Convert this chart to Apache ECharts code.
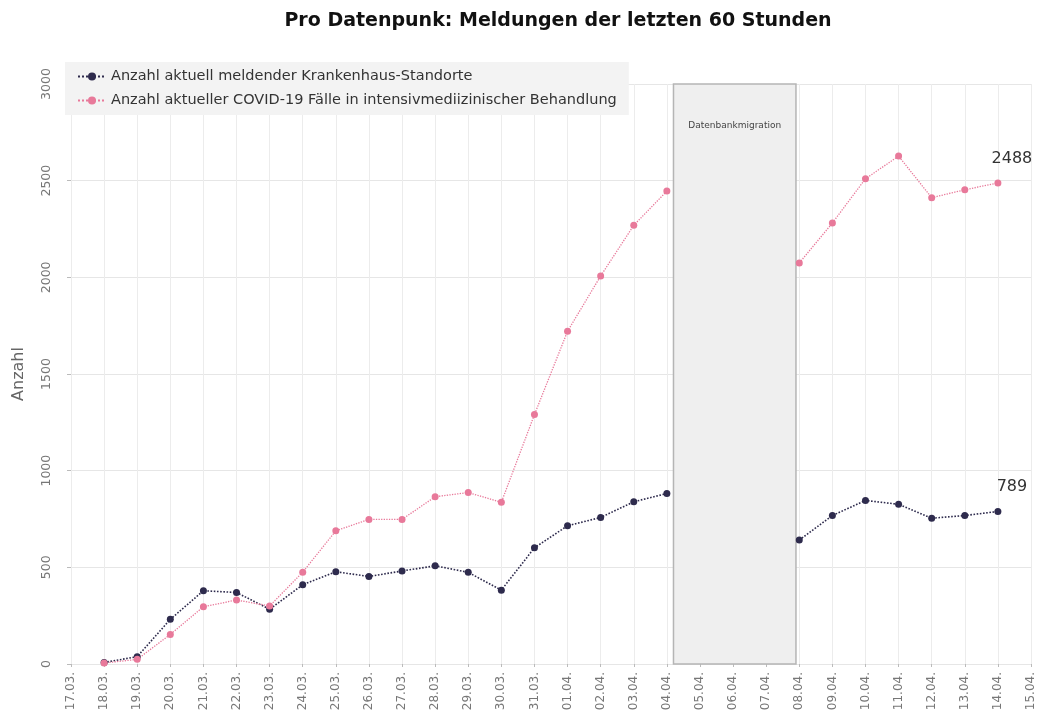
<!DOCTYPE html>
<html lang="de">
<head>
    <meta charset="UTF-8">
    <title>Pro Datenpunk: Meldungen der letzten 60 Stunden</title>
    <script src="https://cdn.jsdelivr.net/npm/echarts@6/dist/echarts.min.js"></script>
    <style>
        html, body { margin: 0; padding: 0; background: #fff; }
        #chart { width: 1048px; height: 726px; }
    </style>
</head>
<body>
    <div id="chart"></div>
    <script>
        // Datum (x-Achse)
        const tage = [
            '17.03.', '18.03.', '19.03.', '20.03.', '21.03.', '22.03.', '23.03.', '24.03.',
            '25.03.', '26.03.', '27.03.', '28.03.', '29.03.', '30.03.', '31.03.', '01.04.',
            '02.04.', '03.04.', '04.04.', '05.04.', '06.04.', '07.04.', '08.04.', '09.04.',
            '10.04.', '11.04.', '12.04.', '13.04.', '14.04.', '15.04.'
        ];
        // Anzahl aktuell meldender Krankenhaus-Standorte
        const standorte = [
            null, 8, 38, 231, 379, 370, 283, 410, 477, 453, 481, 508, 474, 382, 601, 715,
            758, 839, 882, null, null, null, 641, 768, 846, 826, 754, 768, 789, null
        ];
        // Anzahl aktueller COVID-19 Faelle in intensivmedizinischer Behandlung
        const faelle = [
            null, 5, 24, 153, 296, 331, 300, 475, 689, 748, 748, 865, 887, 836, 1290, 1721,
            2007, 2269, 2446, null, null, null, 2074, 2281, 2510, 2627, 2412, 2453, 2488, null
        ];
        // Zeitraum der Datenbankmigration (Position auf der Datumsachse)
        const migration = [18.2, 21.9];

        const navy = '#2e2b4d';
        const pink = '#e8799a';
        const lastIdx = 28;

        const chart = echarts.init(document.getElementById('chart'));

        function serie(name, data, color, lw) {
            return {
                name: name,
                type: 'line',
                data: data,
                symbol: 'circle',
                symbolSize: 7,
                connectNulls: false,
                itemStyle: { color: color },
                lineStyle: { color: color, width: lw, type: 'dotted' },
                emphasis: { disabled: true },
                label: {
                    show: true,
                    color: '#333',
                    fontSize: 16,
                    fontFamily: 'DejaVu Sans',
                    position: 'top',
                    offset: [14, -8],
                    formatter: p => p.dataIndex === lastIdx ? String(p.value) : ''
                },
                z: 3
            };
        }

        const option = {
            backgroundColor: '#fff',
            animation: false,
            title: {
                text: 'Pro Datenpunk: Meldungen der letzten 60 Stunden',
                left: 553,
                top: 7,
                textAlign: 'center',
                textStyle: {
                    fontFamily: 'DejaVu Sans',
                    fontWeight: 'bold',
                    fontSize: 19,
                    color: '#111'
                }
            },
            legend: {
                orient: 'vertical',
                left: 65,
                top: 62,
                padding: [7, 12, 7, 12],
                itemGap: 9,
                itemWidth: 28,
                itemHeight: 10,
                backgroundColor: '#f3f3f3',
                textStyle: { fontFamily: 'DejaVu Sans', fontSize: 14.5, color: '#333' },
                data: [
                    'Anzahl aktuell meldender Krankenhaus-Standorte',
                    'Anzahl aktueller COVID-19 Fälle in intensivmediizinischer Behandlung'
                ]
            },
            grid: { left: 71, right: 17, top: 84, bottom: 62 },
            xAxis: [{
                type: 'category',
                data: tage,
                boundaryGap: false,
                axisLine: { show: false },
                axisTick: { show: true, length: 3, lineStyle: { color: '#bbb' } },
                axisLabel: {
                    rotate: 90,
                    color: '#777',
                    fontSize: 12,
                    fontFamily: 'DejaVu Sans',
                    margin: 8
                },
                splitLine: { show: true, lineStyle: { color: '#ececec', width: 1 } }
            }, {
                type: 'value',
                min: 0,
                max: tage.length - 1,
                show: false
            }],
            yAxis: {
                type: 'value',
                min: 0,
                max: 3000,
                interval: 500,
                name: 'Anzahl',
                nameLocation: 'middle',
                nameGap: 44,
                nameRotate: 90,
                nameTextStyle: { fontFamily: 'DejaVu Sans', fontSize: 16, color: '#666' },
                axisLine: { show: false },
                axisTick: { show: true, length: 4, lineStyle: { color: '#bbb' } },
                axisLabel: {
                    rotate: 90,
                    color: '#777',
                    fontSize: 12.5,
                    fontFamily: 'DejaVu Sans',
                    margin: 18,
                    formatter: v => String(v)
                },
                splitLine: { lineStyle: { color: '#e6e6e6', width: 1 } }
            },
            series: [
                serie('Anzahl aktuell meldender Krankenhaus-Standorte', standorte, navy, 1.6),
                serie('Anzahl aktueller COVID-19 Fälle in intensivmediizinischer Behandlung', faelle, pink, 1.3),
                {
                    name: 'Datenbankmigration',
                    type: 'line',
                    xAxisIndex: 1,
                    data: [],
                    silent: true,
                    markArea: {
                        silent: true,
                        itemStyle: { color: '#efefef', borderColor: '#b5b5b5', borderWidth: 1.5 },
                        label: {
                            show: true,
                            position: 'insideTop',
                            distance: 38,
                            color: '#444',
                            fontSize: 9,
                            fontFamily: 'DejaVu Sans'
                        },
                        data: [[
                            { name: 'Datenbankmigration', xAxis: migration[0], yAxis: 0 },
                            { xAxis: migration[1], yAxis: 3000 }
                        ]]
                    },
                    z: 1
                }
            ]
        };

        chart.setOption(option);
    </script>
</body>
</html>
